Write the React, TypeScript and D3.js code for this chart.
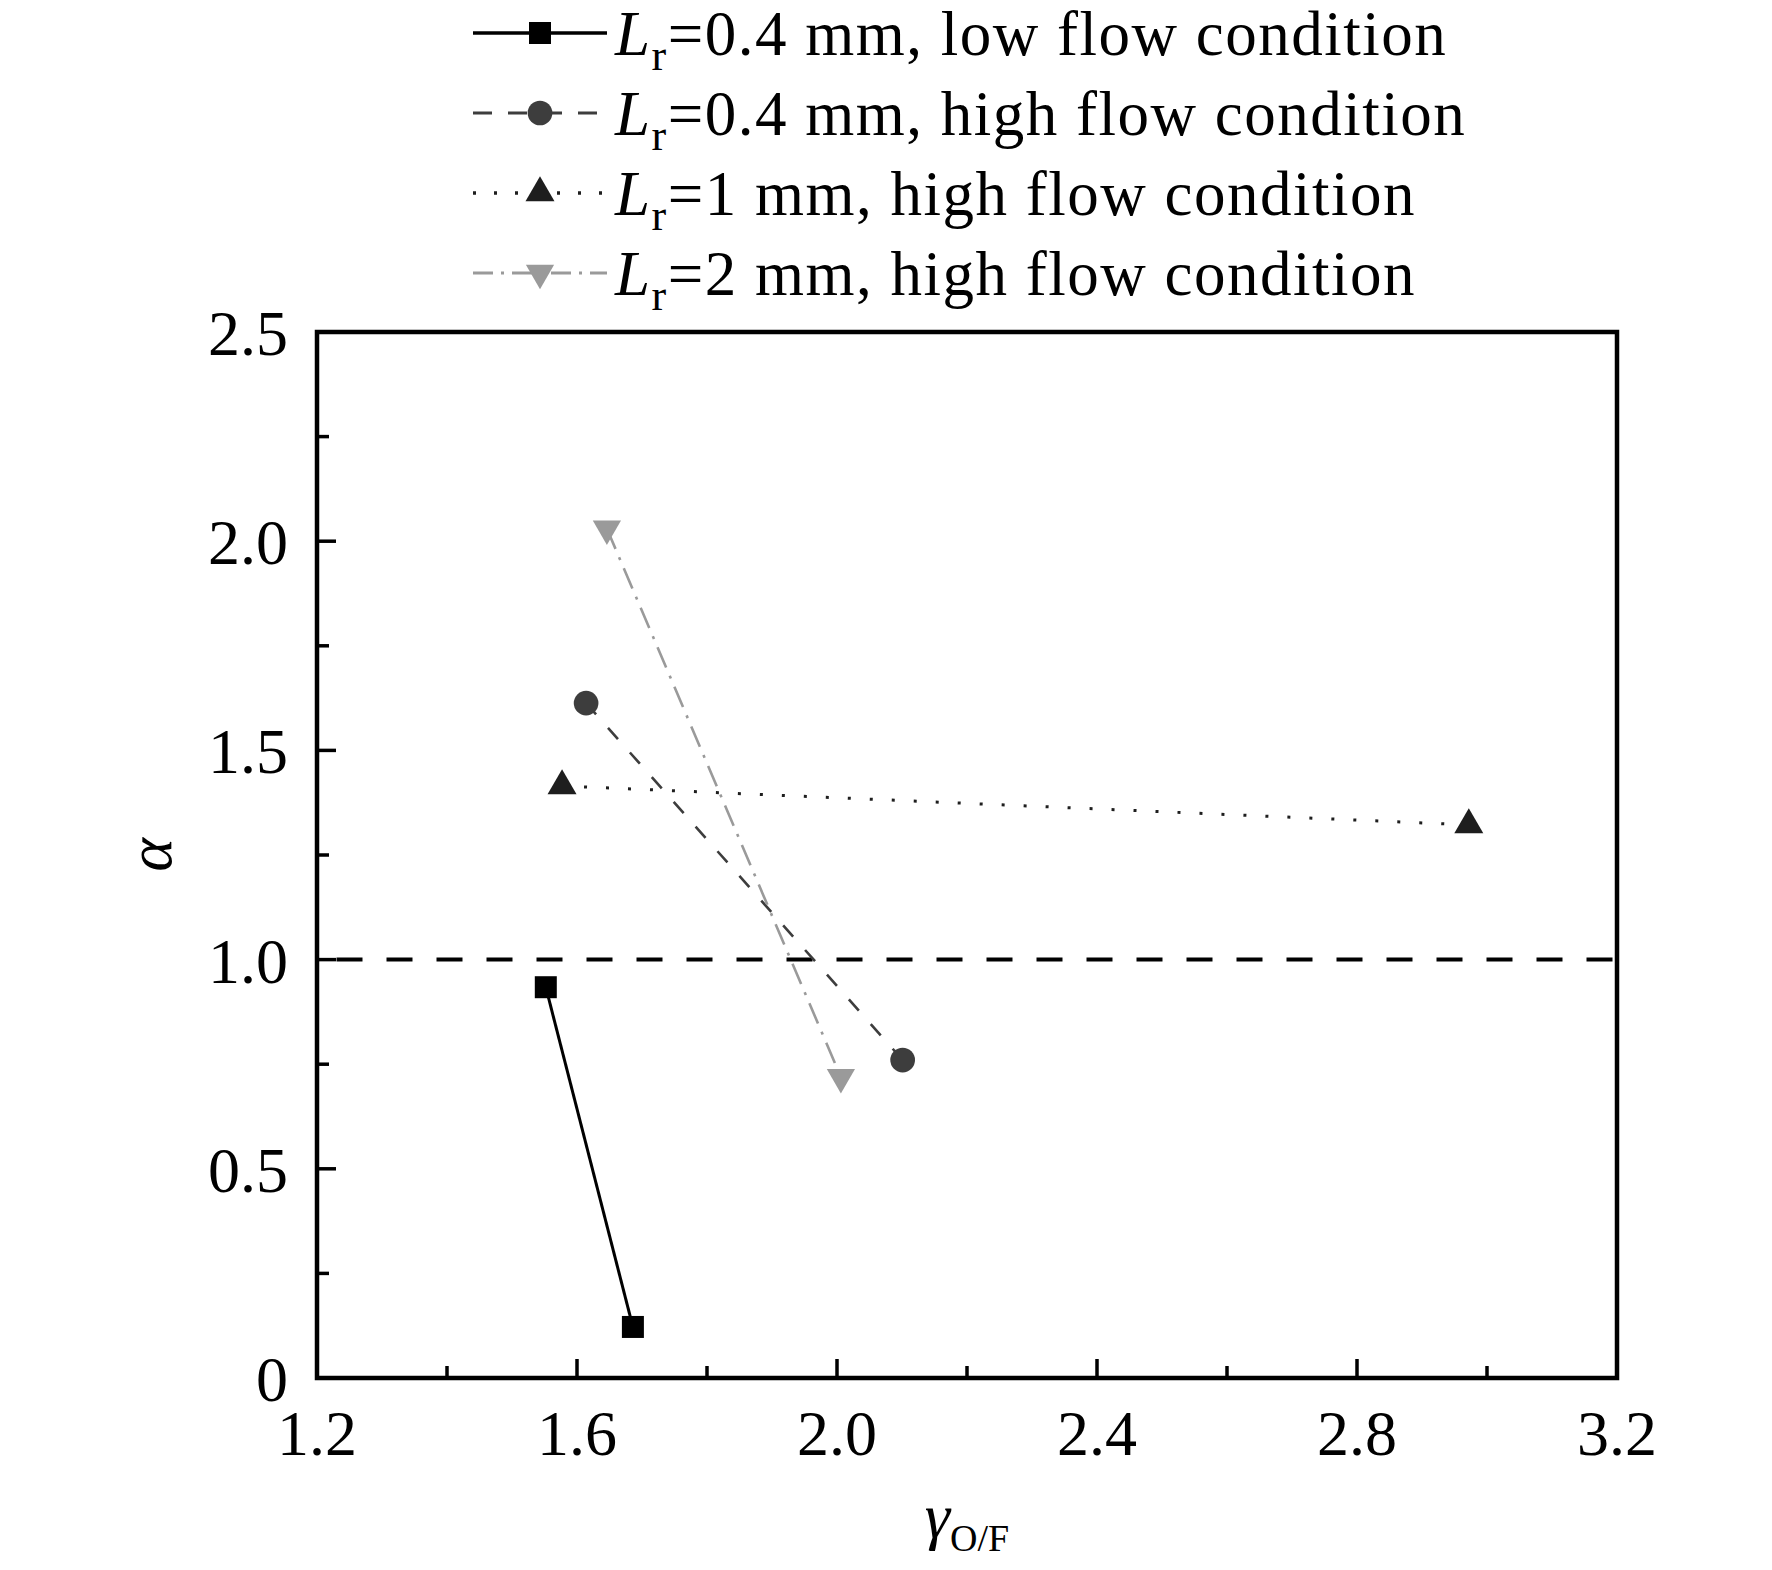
import React from "react";
import * as d3 from "d3";

const xTicks = [1.2, 1.6, 2.0, 2.4, 2.8, 3.2];
const xTickLabels = ["1.2", "1.6", "2.0", "2.4", "2.8", "3.2"];
const xMinor = [1.4, 1.8, 2.2, 2.6, 3.0];
const yTicks = [0, 0.5, 1.0, 1.5, 2.0, 2.5];
const yTickLabels = ["0", "0.5", "1.0", "1.5", "2.0", "2.5"];
const yMinor = [0.25, 0.75, 1.25, 1.75, 2.25];

const s1x = [1.552, 1.686];
const s1y = [0.934, 0.122];
const s2x = [1.614, 2.101];
const s2y = [1.613, 0.76];
const s3x = [1.577, 2.972];
const s3y = [1.415, 1.322];
const s4x = [1.646, 2.006];
const s4y = [2.03, 0.719];

const refLineX = [1.23, 3.2];
const refLineY = 1.0;

const seriesNames = [
  "=0.4 mm, low flow condition",
  "=0.4 mm, high flow condition",
  "=1 mm, high flow condition",
  "=2 mm, high flow condition",
];

const W = 1772;
const H = 1570;
const left = 317;
const right = 1617;
const top = 332;
const bottom = 1378;
const FONT = "'Liberation Serif', 'Times New Roman', serif";

type Style = {
  color: string;
  width: number;
  dash: string | null;
  legendDash: string | null;
  symbol: d3.SymbolType;
  size: number;
  rotate: number;
};

const styles: Style[] = [
  { color: "#000000", width: 3, dash: null, legendDash: null, symbol: d3.symbolSquare, size: 484, rotate: 0 },
  { color: "#3d3d3d", width: 2.6, dash: "15,18", legendDash: "19,16", symbol: d3.symbolCircle, size: 480, rotate: 0 },
  { color: "#1e1e1e", width: 3, dash: "3,19", legendDash: "3,18", symbol: d3.symbolTriangle, size: 364, rotate: 0 },
  { color: "#9a9a9a", width: 2.6, dash: "22,9,3,9", legendDash: "20,8,3,8", symbol: d3.symbolTriangle, size: 345, rotate: 180 },
];

export default function App() {
  const x = d3.scaleLinear().domain([1.2, 3.2]).range([left, right]);
  const y = d3.scaleLinear().domain([0, 2.5]).range([bottom, top]);
  const line = d3
    .line<[number, number]>()
    .x((d) => x(d[0]))
    .y((d) => y(d[1]));

  const series: [number[], number[]][] = [
    [s1x, s1y],
    [s2x, s2y],
    [s3x, s3y],
    [s4x, s4y],
  ];

  const legendRowBaseline = [55, 135, 215, 295];

  return (
    <svg
      width={W}
      height={H}
      style={{ position: "absolute", left: 0, top: 0, background: "#fff" }}
      fontFamily={FONT}
    >
      <rect x={0} y={0} width={W} height={H} fill="#fff" />

      {/* Legend */}
      {styles.map((st, i) => {
        const bl = legendRowBaseline[i];
        const ly = bl - 22;
        const sym = d3.symbol().type(st.symbol).size(st.size)() as string;
        return (
          <g key={"leg" + i}>
            <line
              x1={473}
              x2={607}
              y1={ly}
              y2={ly}
              stroke={st.color}
              strokeWidth={st.width + 0.5}
              strokeDasharray={st.legendDash ?? undefined}
            />
            <path d={sym} fill={st.color} transform={`translate(540,${ly}) rotate(${st.rotate})`} />
            <text x={615} y={bl} fontSize={63} letterSpacing={1.5} fill="#000">
              <tspan fontStyle="italic">L</tspan>
              <tspan fontSize={44} dy={15}>r</tspan>
              <tspan dy={-15}>{seriesNames[i]}</tspan>
            </text>
          </g>
        );
      })}

      {/* Reference line */}
      <line
        x1={x(refLineX[0])}
        x2={x(refLineX[1])}
        y1={y(refLineY)}
        y2={y(refLineY)}
        stroke="#000"
        strokeWidth={4}
        strokeDasharray="26,24"
      />

      {/* Series lines */}
      {series.map(([xs, ys], i) => {
        const st = styles[i];
        const pts = xs.map((v, j) => [v, ys[j]] as [number, number]);
        return (
          <path
            key={"ln" + i}
            d={line(pts) as string}
            fill="none"
            stroke={st.color}
            strokeWidth={st.width}
            strokeDasharray={st.dash ?? undefined}
          />
        );
      })}

      {/* Markers */}
      {series.map(([xs, ys], i) => {
        const st = styles[i];
        const sym = d3.symbol().type(st.symbol).size(st.size)() as string;
        return xs.map((v, j) => (
          <path
            key={"mk" + i + "-" + j}
            d={sym}
            fill={st.color}
            transform={`translate(${x(v)},${y(ys[j])}) rotate(${st.rotate})`}
          />
        ));
      })}

      {/* Ticks */}
      {xTicks.map((t) => (
        <line key={"xt" + t} x1={x(t)} x2={x(t)} y1={bottom} y2={bottom - 19} stroke="#000" strokeWidth={3.5} />
      ))}
      {xMinor.map((t) => (
        <line key={"xm" + t} x1={x(t)} x2={x(t)} y1={bottom} y2={bottom - 12} stroke="#000" strokeWidth={3.5} />
      ))}
      {yTicks.map((t) => (
        <line key={"yt" + t} x1={left} x2={left + 19} y1={y(t)} y2={y(t)} stroke="#000" strokeWidth={3.5} />
      ))}
      {yMinor.map((t) => (
        <line key={"ym" + t} x1={left} x2={left + 12} y1={y(t)} y2={y(t)} stroke="#000" strokeWidth={3.5} />
      ))}

      {/* Frame */}
      <rect
        x={left}
        y={top}
        width={right - left}
        height={bottom - top}
        fill="none"
        stroke="#000"
        strokeWidth={4.5}
      />

      {/* Tick labels */}
      {xTicks.map((t, i) => (
        <text key={"xl" + t} x={x(t)} y={1455} fontSize={64} textAnchor="middle" fill="#000">
          {xTickLabels[i]}
        </text>
      ))}
      {yTicks.map((t, i) => (
        <text key={"yl" + t} x={288} y={y(t) + 23} fontSize={64} textAnchor="end" fill="#000">
          {yTickLabels[i]}
        </text>
      ))}

      {/* Axis titles */}
      <text
        x={171}
        y={(top + bottom) / 2}
        fontSize={64}
        fontStyle="italic"
        textAnchor="middle"
        transform={`rotate(-90,171,${(top + bottom) / 2})`}
        fill="#000"
      >
        α
      </text>
      <text x={(left + right) / 2} y={1537} fontSize={64} textAnchor="middle" fill="#000">
        <tspan fontStyle="italic">γ</tspan>
        <tspan fontSize={38} dy={14}>O/F</tspan>
      </text>
    </svg>
  );
}
